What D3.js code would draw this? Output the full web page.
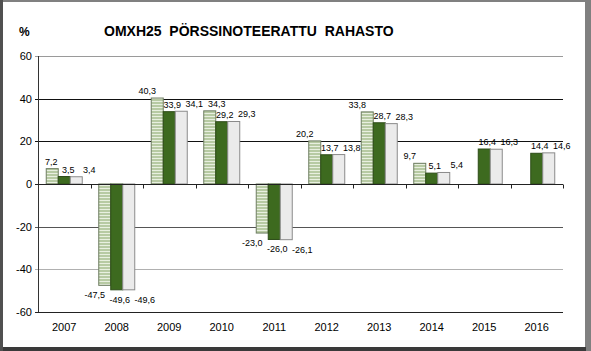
<!DOCTYPE html>
<html lang="fi">
<head>
<meta charset="UTF-8">
<title>OMXH25 pörssinoteerattu rahasto</title>
<script src="https://d3js.org/d3.v7.min.js"></script>
<style>
  body { margin: 0; background: #fff; }
  svg { display: block; font-family: "Liberation Sans", Arial, sans-serif; }
</style>
</head>
<body>
<div id="chart"></div>
<script>
const width = 591;
const height = 351;

// chart data
const years = ["2007", "2008", "2009", "2010", "2011", "2012", "2013", "2014", "2015", "2016"];
const series1 = [7.2, -47.5, 40.3, 34.3, -23.0, 20.2, 33.8, 9.7, null, null];
const series2 = [3.5, -49.6, 33.9, 29.2, -26.0, 13.7, 28.7, 5.1, 16.4, 14.4];
const series3 = [3.4, -49.6, 34.1, 29.3, -26.1, 13.8, 28.3, 5.4, 16.3, 14.6];
const yTicks = [60, 40, 20, 0, -20, -40, -60];

const seriesList = [series1, series2, series3];
// finnish style: decimal comma, plain hyphen as minus
const fmt = v => d3.format(".1f")(v).replace(".", ",").replace("\u2212", "-");

const margin = { top: 56, right: 28, bottom: 39, left: 38 };

const svg = d3.select("#chart")
    .append("svg")
    .attr("width", width)
    .attr("height", height);

// frame
svg.append("rect").attr("width", width).attr("height", height).attr("fill", "#808080");
svg.append("rect").attr("x", 0).attr("y", 347).attr("width", 586).attr("height", 4).attr("fill", "#3a3a3a");
svg.append("rect").attr("x", 0).attr("y", 0).attr("width", 3).attr("height", 351).attr("fill", "#505050");
svg.append("rect").attr("x", 3).attr("y", 2).attr("width", 582).attr("height", 345).attr("fill", "#fff");

// stripe pattern for the first series
const defs = svg.append("defs");
const pat = defs.append("pattern")
    .attr("id", "stripes")
    .attr("patternUnits", "userSpaceOnUse")
    .attr("width", 4).attr("height", 3);
pat.append("rect").attr("width", 4).attr("height", 3).attr("fill", "#b7caa3");
pat.append("rect").attr("y", 2).attr("width", 4).attr("height", 1).attr("fill", "#e8efe0");

const x = d3.scaleBand()
    .domain(years)
    .range([margin.left, width - margin.right])
    .paddingInner(0.3143)
    .paddingOuter(0.1571);

const inner = d3.scaleBand()
    .domain([0, 1, 2])
    .range([0, x.bandwidth()]);

const y = d3.scaleLinear()
    .domain([-60, 60])
    .range([height - margin.bottom, margin.top]);

// gridlines
const gridColor = { 60: "#9a9a9a", 40: "#111", 20: "#111", 0: "#222", "-20": "#555", "-40": "#b0b0b0", "-60": "#222" };
svg.append("g")
    .selectAll("line")
    .data(yTicks)
    .join("line")
    .attr("x1", margin.left - 3)
    .attr("x2", width - margin.right)
    .attr("y1", d => Math.round(y(d)) + 0.5)
    .attr("y2", d => Math.round(y(d)) + 0.5)
    .attr("stroke", d => gridColor[d])
    .attr("stroke-width", 1);

// y axis line
svg.append("line")
    .attr("x1", margin.left + 0.5).attr("x2", margin.left + 0.5)
    .attr("y1", y(60)).attr("y2", y(-60))
    .attr("stroke", "#333");

// y tick labels
svg.append("g")
    .selectAll("text")
    .data(yTicks)
    .join("text")
    .attr("x", margin.left - 6)
    .attr("y", d => y(d) + 4)
    .attr("text-anchor", "end")
    .attr("font-size", 11)
    .attr("fill", "#000")
    .text(d => d);

// bars (year by year, series in order)
const fills = ["url(#stripes)", "#3d6a1f", "#ebebeb"];
const strokes = ["#6e7d62", "#2c4c17", "#8a8a8a"];
const barData = [];
years.forEach((yr, i) => seriesList.forEach((s, si) => {
    if (s[i] !== null) barData.push({ year: yr, s: si, v: s[i] });
}));

svg.append("g")
    .selectAll("rect")
    .data(barData)
    .join("rect")
    .attr("x", d => x(d.year) + inner(d.s))
    .attr("width", inner.bandwidth())
    .attr("y", d => y(Math.max(0, d.v)))
    .attr("height", d => Math.abs(y(d.v) - y(0)))
    .attr("fill", d => fills[d.s])
    .attr("stroke", d => strokes[d.s])
    .attr("stroke-width", 1);

// zero line + category ticks
const zy = Math.round(y(0)) + 0.5;
svg.append("line")
    .attr("x1", margin.left).attr("x2", width - margin.right)
    .attr("y1", zy).attr("y2", zy)
    .attr("stroke", "#222");
const step = x.step();
svg.append("g")
    .selectAll("line")
    .data(years)
    .join("line")
    .attr("x1", d => Math.round(x(d) - x.paddingOuter() * step + step) + 0.5)
    .attr("x2", d => Math.round(x(d) - x.paddingOuter() * step + step) + 0.5)
    .attr("y1", zy).attr("y2", zy + 4)
    .attr("stroke", "#222");

// data labels: spread sideways, pushed right while they collide with an earlier one
const labelDx = [-10, 3, 13];
const labels = svg.append("g")
    .selectAll("text")
    .data(barData)
    .join("text")
    .attr("text-anchor", "middle")
    .attr("font-size", 9)
    .attr("fill", "#000")
    .text(d => fmt(d.v));

const labelH = 9;
const placed = [];
labels.each(function (d) {
    d.w = this.getComputedTextLength();
    d.lx = x(d.year) + inner(d.s) + inner.bandwidth() / 2 + labelDx[d.s];
    d.lx = Math.max(d.lx, margin.left + d.w / 2 + 7);
    d.ly = d.v >= 0 ? y(d.v) - 4 : y(d.v) + 13;
    let moved = true;
    while (moved) {
        moved = false;
        for (const p of placed) {
            if (Math.abs(p.lx - d.lx) < (p.w + d.w) / 2 + 4 && Math.abs(p.ly - d.ly) < labelH) {
                d.lx += 1;
                moved = true;
            }
        }
    }
    placed.push(d);
});
labels.attr("x", d => d.lx).attr("y", d => d.ly);

// x labels
svg.append("g")
    .selectAll("text")
    .data(years)
    .join("text")
    .attr("x", d => x(d) + x.bandwidth() / 2)
    .attr("y", 331)
    .attr("text-anchor", "middle")
    .attr("font-size", 11)
    .attr("fill", "#000")
    .text(d => d);

// titles
svg.append("text")
    .attr("x", 104).attr("y", 36)
    .attr("font-size", 14)
    .attr("font-weight", "bold")
    .style("white-space", "pre")
    .text("OMXH25  PÖRSSINOTEERATTU  RAHASTO");

svg.append("text")
    .attr("x", 19).attr("y", 36)
    .attr("font-size", 12)
    .attr("font-weight", "bold")
    .text("%");
</script>
</body>
</html>
